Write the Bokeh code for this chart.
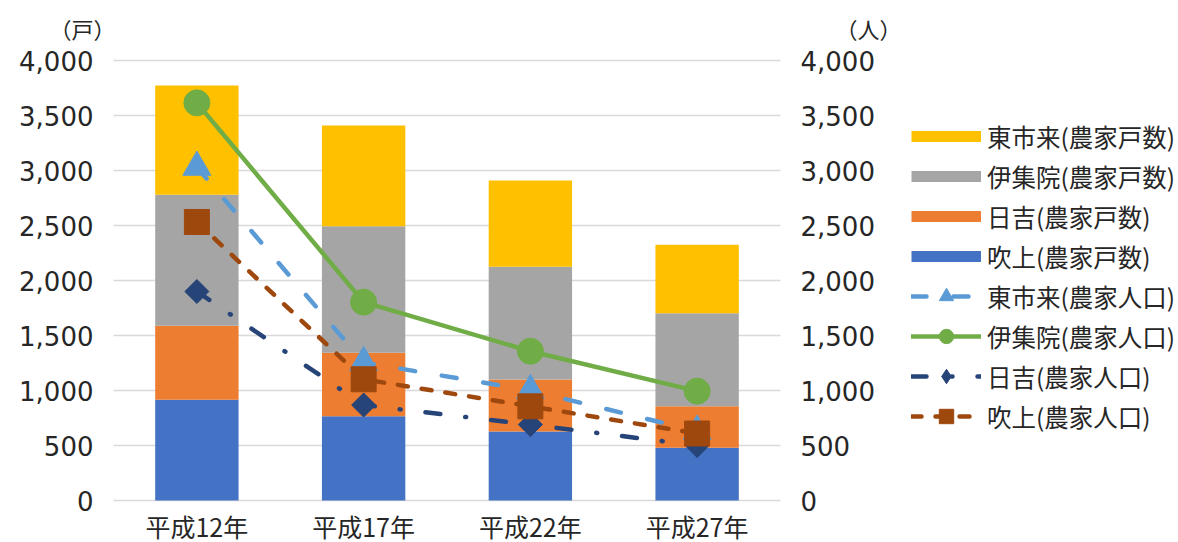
from bokeh.plotting import figure
from bokeh.models import (ColumnDataSource, Range1d, LinearAxis, FixedTicker,
                          NumeralTickFormatter, Legend, LegendItem, Label, Grid)
from bokeh.embed import file_html
from bokeh.resources import INLINE
import math

years = ["平成12年", "平成17年", "平成22年", "平成27年"]

# 農家戸数（戸）
fukiage_households = [915, 766, 627, 479]
hiyoshi_households = [673, 577, 473, 378]
ijuin_households = [1191, 1151, 1024, 846]
higashiichiki_households = [994, 915, 785, 621]

# 農家人口（人）
higashiichiki_population = [3030, 1255, 1000, 630]
ijuin_population = [3615, 1803, 1357, 994]
hiyoshi_population = [1900, 868, 690, 500]
fukiage_population = [2532, 1102, 856, 609]

y_ticks = [0, 500, 1000, 1500, 2000, 2500, 3000, 3500, 4000]

C_YELLOW = "#FFC000"
C_GRAY = "#A5A5A5"
C_ORANGE = "#ED7D31"
C_BLUE = "#4472C4"
C_LIGHTBLUE = "#5B9BD5"
C_GREEN = "#70AD47"
C_NAVY = "#264478"
C_BROWN = "#9E480E"
TEXT = "#262626"
NUM_FONT = "DejaVu Sans"
JP_FONT = "Noto Sans CJK JP"

# layout in pixels: the frame covers the whole canvas, the category band
# sits between PLOT_L and PLOT_R and all axes are pinned to its edges
CANVAS_W, CANVAS_H = 1178, 542
PLOT_L, PLOT_R = 113, 780
TOP_GRID, BASE_Y = 60, 500

n = len(years)
x_pos = [i + 0.5 for i in range(n)]
px_per_cat = (PLOT_R - PLOT_L) / n
x_start = -PLOT_L / px_per_cat
x_end = (CANVAS_W - PLOT_L) / px_per_cat

y_max = y_ticks[-1]
px_per_unit = (BASE_Y - TOP_GRID) / y_max
y_start = -(CANVAS_H - BASE_Y) / px_per_unit
y_end = y_max + TOP_GRID / px_per_unit

bar_source = ColumnDataSource(data=dict(
    x=x_pos,
    fukiage=fukiage_households,
    hiyoshi=hiyoshi_households,
    ijuin=ijuin_households,
    higashiichiki=higashiichiki_households,
))

p = figure(x_range=Range1d(x_start, x_end), y_range=Range1d(y_start, y_end),
           frame_width=CANVAS_W, frame_height=CANVAS_H,
           min_border_left=0, min_border_right=0, min_border_top=0,
           min_border_bottom=0, title=None,
           output_backend="svg", toolbar_location=None,
           background_fill_color="white", border_fill_color="white",
           outline_line_color=None)

p.extra_y_ranges = {"pop": Range1d(y_start, y_end)}

# horizontal grid limited to the category band
grid = p.ygrid[0]
grid.ticker = FixedTicker(ticks=y_ticks)
grid.grid_line_color = "#D9D9D9"
grid.grid_line_width = 1.5
grid.bounds = (0, y_max)
if "cross_bounds" in Grid.properties():
    grid.cross_bounds = (0, n)
else:
    grid.visible = False
    p.segment(x0=0, x1=n, y0=y_ticks, y1=y_ticks, line_color="#D9D9D9",
              line_width=1.5)
p.xgrid.visible = False

# stacked household bars
p.vbar_stack(["fukiage", "hiyoshi", "ijuin", "higashiichiki"], x="x",
             width=0.5, source=bar_source,
             color=[C_BLUE, C_ORANGE, C_GRAY, C_YELLOW], line_color=None)


# population lines on the right axis
def pop_series(values, color, dash, marker, size, angle=0.0):
    src = ColumnDataSource(data=dict(x=x_pos, v=values))
    ln = p.line("x", "v", source=src, y_range_name="pop", line_color=color,
                line_width=4.5, line_dash=dash, line_cap="round",
                line_join="round")
    mk = p.scatter("x", "v", source=src, y_range_name="pop", marker=marker,
                   size=size, angle=angle, fill_color=color, line_color=color)
    return ln, mk


r_hi_pop = pop_series(higashiichiki_population, C_LIGHTBLUE, "15 27", "triangle", 28)
r_ij_pop = pop_series(ijuin_population, C_GREEN, "solid", "circle", 26)
r_hy_pop = pop_series(hiyoshi_population, C_NAVY, "15 25 1 25", "square", 17, math.pi / 4)
r_fu_pop = pop_series(fukiage_population, C_BROWN, "10 14", "square", 25)


# legend-only swatches (a single undrawn point each)
def swatch(color):
    return p.line(x=[x_pos[0]], y=[float("nan")], line_color=color,
                  line_width=11, line_cap="butt")


diamond_key = p.scatter(x=[x_pos[0]], y=[float("nan")], marker="diamond",
                        size=20, fill_color=C_NAVY, line_color=C_NAVY)

items = [
    LegendItem(label="東市来(農家戸数)", renderers=[swatch(C_YELLOW)]),
    LegendItem(label="伊集院(農家戸数)", renderers=[swatch(C_GRAY)]),
    LegendItem(label="日吉(農家戸数)", renderers=[swatch(C_ORANGE)]),
    LegendItem(label="吹上(農家戸数)", renderers=[swatch(C_BLUE)]),
    LegendItem(label="東市来(農家人口)", renderers=list(r_hi_pop)),
    LegendItem(label="伊集院(農家人口)", renderers=list(r_ij_pop)),
    LegendItem(label="日吉(農家人口)", renderers=[r_hy_pop[0], diamond_key]),
    LegendItem(label="吹上(農家人口)", renderers=list(r_fu_pop)),
]

legend = Legend(items=items, location=(911, CANVAS_H - 434),
                orientation="vertical",
                glyph_width=70, glyph_height=36, label_height=24,
                label_standoff=6, spacing=4, padding=0, margin=0,
                border_line_color=None, background_fill_alpha=0,
                label_text_font=JP_FONT, label_text_font_size="24.5px",
                label_text_color=TEXT)
p.add_layout(legend)

# value axes pinned to both edges of the category band
left_axis = p.yaxis[0]
left_axis.fixed_location = 0
right_axis = LinearAxis(y_range_name="pop", fixed_location=n)
p.add_layout(right_axis, "right")

for ax in (left_axis, right_axis):
    ax.ticker = FixedTicker(ticks=y_ticks)
    ax.bounds = (0, y_max)
    ax.formatter = NumeralTickFormatter(format="0,0")
    ax.axis_line_color = None
    ax.major_tick_line_color = None
    ax.minor_tick_line_color = None
    ax.major_tick_out = 0
    ax.major_tick_in = 0
    ax.major_label_standoff = 20
    ax.major_label_text_font = NUM_FONT
    ax.major_label_text_font_size = "26px"
    ax.major_label_text_color = TEXT

# category axis pinned to the zero line
xa = p.xaxis[0]
xa.fixed_location = 0
xa.ticker = FixedTicker(ticks=x_pos)
xa.major_label_overrides = {x: y for x, y in zip(x_pos, years)}
xa.axis_line_color = None
xa.major_tick_line_color = None
xa.minor_tick_line_color = None
xa.major_tick_out = 0
xa.major_tick_in = 0
xa.major_label_standoff = 7
xa.major_label_text_font = JP_FONT
xa.major_label_text_font_size = "25px"
xa.major_label_text_color = TEXT

# unit captions above each value axis
for cx, txt in [(82, "（戸）"), (868, "（人）")]:
    p.add_layout(Label(x=cx, y=CANVAS_H - 27, x_units="screen", y_units="screen",
                       text=txt, text_align="center", text_baseline="middle",
                       text_font=JP_FONT, text_font_size="22px",
                       text_color=TEXT))

open("out.html", "w").write(file_html(p, INLINE))
